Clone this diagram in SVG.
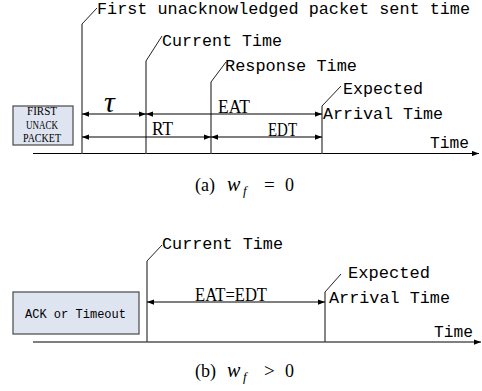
<svg xmlns="http://www.w3.org/2000/svg" width="482" height="391" viewBox="0 0 482 391">
<style>
.mono{font-family:"Liberation Mono","DejaVu Sans Mono",monospace;font-size:16.5px;fill:#000}
.ser{font-family:"Liberation Serif","DejaVu Serif",serif;fill:#000}
.vl{stroke:#444;stroke-width:1.3;fill:none}
.ld{stroke:#222;stroke-width:1;fill:none}
.ar{stroke:#000;stroke-width:1.2;fill:none}
.box{fill:#dfe5f0;stroke:#555;stroke-width:1.3}
</style>
<defs>
<marker id="ah" viewBox="0 0 8 6" refX="8" refY="3" markerWidth="7" markerHeight="5.5" markerUnits="userSpaceOnUse" orient="auto-start-reverse">
<path d="M0,0 L8,3 L0,6 Z" fill="#000"/>
</marker>
</defs>

<g id="connectors">
<path class="ar" d="M33,153.5 H479" marker-end="url(#ah)"/>
<path class="vl" d="M82,24 V154"/>
<path class="vl" d="M146,61 V154"/>
<path class="vl" d="M211,82 V154"/>
<path class="vl" d="M322,106 V154"/>
<path class="ld" d="M82,24 L97,8"/>
<path class="ld" d="M146,61 L162,36"/>
<path class="ld" d="M211,82 L226,62"/>
<path class="ld" d="M322,106 L341,86"/>
<path class="ar" d="M82,114 H146" marker-start="url(#ah)" marker-end="url(#ah)"/>
<path class="ar" d="M146,114 H322" marker-start="url(#ah)" marker-end="url(#ah)"/>
<path class="ar" d="M82,137 H211" marker-start="url(#ah)" marker-end="url(#ah)"/>
<path class="ar" d="M211,137 H322" marker-start="url(#ah)" marker-end="url(#ah)"/>
<path class="ar" d="M33,342 H481" marker-end="url(#ah)"/>
<path class="vl" d="M147,261 V342"/>
<path class="ld" d="M147,261 L162,245"/>
<path class="vl" d="M325,292 V342"/>
<path class="ld" d="M325,292 L341,274"/>
<path class="ar" d="M147,302 H325" marker-start="url(#ah)" marker-end="url(#ah)"/>
</g>

<g id="node-first-unack-packet">
<rect class="box" x="13" y="106" width="60" height="39"/>
<text class="ser" font-size="12.5" x="27" y="115" textLength="30" lengthAdjust="spacingAndGlyphs">FIRST</text>
<text class="ser" font-size="12.5" x="26" y="128.5" textLength="32" lengthAdjust="spacingAndGlyphs">UNACK</text>
<text class="ser" font-size="12.5" x="23" y="142" textLength="38" lengthAdjust="spacingAndGlyphs">PACKET</text>
</g>

<g id="label-first-sent">
<text class="mono" x="97" y="14" textLength="373" lengthAdjust="spacingAndGlyphs">First unacknowledged packet sent time</text>
</g>
<g id="label-current-a">
<text class="mono" x="162" y="46" textLength="120" lengthAdjust="spacingAndGlyphs">Current Time</text>
</g>
<g id="label-response">
<text class="mono" x="225" y="71" textLength="132" lengthAdjust="spacingAndGlyphs">Response Time</text>
</g>
<g id="label-expected-a">
<text class="mono" x="343" y="94" textLength="80" lengthAdjust="spacingAndGlyphs">Expected</text>
<text class="mono" x="323" y="119" textLength="120" lengthAdjust="spacingAndGlyphs">Arrival Time</text>
</g>
<g id="label-time-a">
<text class="mono" x="430" y="148" textLength="39" lengthAdjust="spacingAndGlyphs">Time</text>
</g>
<g id="intervals-a">
<text class="ser" font-size="30" font-style="italic" x="104" y="112">τ</text>
<text class="ser" font-size="18.5" x="218" y="113" textLength="32" lengthAdjust="spacingAndGlyphs">EAT</text>
<text class="ser" font-size="19" x="152" y="135" textLength="21" lengthAdjust="spacingAndGlyphs">RT</text>
<text class="ser" font-size="18.5" x="268" y="136" textLength="29" lengthAdjust="spacingAndGlyphs">EDT</text>
</g>
<g id="caption-a">
<text class="ser" font-size="18" x="195" y="191">(a)</text>
<text class="ser" font-size="20" font-style="italic" x="227" y="191">w</text>
<text class="ser" font-size="13" font-style="italic" x="243" y="195">f</text>
<text class="ser" font-size="19" x="264" y="191">=</text>
<text class="ser" font-size="18" x="285" y="191">0</text>
</g>

<g id="node-ack-timeout">
<rect class="box" x="13" y="292" width="126" height="42"/>
<text class="mono" x="25" y="318" textLength="101" lengthAdjust="spacingAndGlyphs" style="font-size:12px">ACK or Timeout</text>
</g>
<g id="label-current-b">
<text class="mono" x="162" y="249" textLength="121" lengthAdjust="spacingAndGlyphs">Current Time</text>
</g>
<g id="label-expected-b">
<text class="mono" x="348" y="278" textLength="82" lengthAdjust="spacingAndGlyphs">Expected</text>
<text class="mono" x="329" y="303" textLength="121" lengthAdjust="spacingAndGlyphs">Arrival Time</text>
</g>
<g id="label-time-b">
<text class="mono" x="434" y="337" textLength="39" lengthAdjust="spacingAndGlyphs">Time</text>
</g>
<g id="interval-b">
<text class="ser" font-size="18.5" x="195" y="301" textLength="72" lengthAdjust="spacingAndGlyphs">EAT=EDT</text>
</g>
<g id="caption-b">
<text class="ser" font-size="18" x="195" y="377">(b)</text>
<text class="ser" font-size="20" font-style="italic" x="227" y="377">w</text>
<text class="ser" font-size="13" font-style="italic" x="243" y="381">f</text>
<text class="ser" font-size="19" x="264" y="377">&gt;</text>
<text class="ser" font-size="18" x="285" y="377">0</text>
</g>
</svg>
